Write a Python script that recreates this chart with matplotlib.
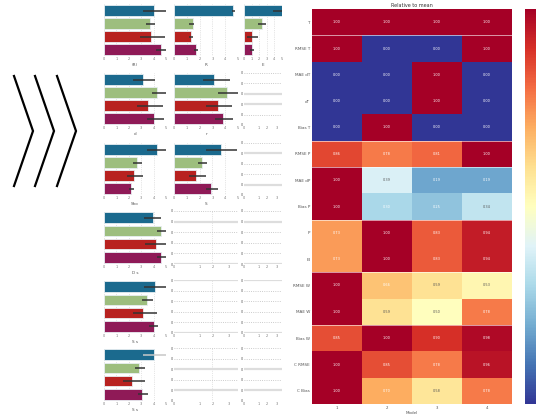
import numpy as np
import matplotlib.pyplot as plt

W, H = 536, 416
fig = plt.figure(figsize=(W / 100, H / 100), dpi=100)


def box(x0, y0, x1, y1):
    # pixel box (top-left origin) -> figure fraction
    return [x0 / W, 1 - y1 / H, (x1 - x0) / W, (y1 - y0) / H]


# ---- bar panel data (fraction of axis range) ----
bar_colors = ["#1b6a8e", "#9dbe7e", "#b82220", "#8f1a57"]
panel_pos = [(0, 0), (0, 1), (0, 2), (1, 0), (1, 1), (2, 0), (2, 1), (3, 0), (4, 0), (5, 0)]
panel_means = [
    [0.81, 0.74, 0.76, 0.92],
    [0.92, 0.29, 0.26, 0.35],
    [1.05, 0.47, 0.21, 0.21],
    [0.63, 0.85, 0.71, 0.81],
    [0.63, 0.83, 0.69, 0.77],
    [0.85, 0.53, 0.48, 0.44],
    [0.73, 0.44, 0.34, 0.58],
    [0.79, 0.92, 0.84, 0.92],
    [0.82, 0.69, 0.63, 0.81],
    [0.81, 0.56, 0.45, 0.61],
]
panel_lo = [
    [0.63, 0.68, 0.58, 0.84],
    [0.90, 0.24, 0.23, 0.31],
    [0.75, 0.37, 0.08, 0.15],
    [0.47, 0.77, 0.53, 0.69],
    [0.45, 0.69, 0.50, 0.64],
    [0.69, 0.47, 0.37, 0.40],
    [0.50, 0.38, 0.23, 0.50],
    [0.65, 0.85, 0.66, 0.85],
    [0.65, 0.61, 0.47, 0.73],
    [0.63, 0.50, 0.31, 0.55],
]
panel_hi = [
    [1.00, 0.82, 0.98, 1.00],
    [0.96, 0.32, 0.29, 0.38],
    [1.10, 0.58, 0.37, 0.26],
    [0.82, 1.00, 0.95, 0.97],
    [0.88, 1.00, 0.90, 0.92],
    [1.00, 0.61, 0.63, 0.48],
    [0.98, 0.52, 0.50, 0.69],
    [0.92, 1.00, 1.00, 1.00],
    [1.00, 0.79, 0.85, 0.87],
    [1.00, 0.66, 0.66, 0.71],
]
panel_labels = ["(R)", "R", "E", "d", "r", "Sho", "S", "D s", "S s", "S s"]
empty_pos = [(1, 2), (2, 2), (3, 1), (3, 2), (4, 1), (4, 2), (5, 1), (5, 2)]
empty_solid = [[2, 3], [1, 4], [0, 4], [0, 4], [0, 5], [0, 5], [1, 3], [1, 3]]

col_x = [(104, 166), (174, 238), (244, 282)]
row_y = [(4, 56), (73, 125), (143, 195), (211, 264), (280, 333), (348, 401)]

for k, (r, c) in enumerate(panel_pos):
    x0, x1 = col_x[c]
    y0, y1 = row_y[r]
    ax = fig.add_axes(box(x0, y0, x1, y1))
    m = np.array(panel_means[k])
    lo = np.array(panel_lo[k])
    hi = np.array(panel_hi[k])
    yy = np.arange(4)
    ax.barh(yy, m, height=0.8, color=bar_colors, edgecolor="#e8eef2", linewidth=0.6, zorder=2)
    for i in range(4):
        ecol = "#c8c8c8" if (k == 9 and i == 0) else "#333333"
        ax.plot([lo[i], hi[i]], [yy[i], yy[i]], color=ecol,
                lw=1.1, zorder=3, solid_capstyle="butt")
    ax.set_xlim(0, 1.0)
    ax.set_ylim(3.5, -0.5)
    ax.set_yticks([])
    ax.set_xticks([0, 0.2, 0.4, 0.6, 0.8, 1.0])
    ax.set_xticklabels(["0", "1", "2", "3", "4", "5"], fontsize=2.5, color="#777777")
    ax.tick_params(length=0, pad=1)
    ax.grid(axis="x", ls=":", lw=0.5, color="#cccccc", zorder=0)
    for s in ax.spines.values():
        s.set_visible(False)
    ax.set_xlabel(panel_labels[k], fontsize=3, color="#555555", labelpad=1)

for k, (r, c) in enumerate(empty_pos):
    x0, x1 = col_x[c]
    y0, y1 = row_y[r]
    ax = fig.add_axes(box(x0, y0, x1, y1))
    ax.set_xlim(0, 1)
    ax.set_ylim(0, 5)
    ax.set_yticks(range(6))
    ax.set_yticklabels(["0"] * 6, fontsize=2.5, color="#555555")
    ax.set_xticks([0, 0.4, 0.6, 0.85])
    ax.set_xticklabels(["0", "1", "2", "3"], fontsize=2.5, color="#777777")
    ax.tick_params(length=0, pad=1)
    ax.grid(axis="y", ls=":", lw=0.6, color="#bbbbbb")
    if c == 1:
        ax.axvline(0.6, ls=":", lw=0.5, color="#cccccc")
    for lvl in empty_solid[k]:
        ax.axhline(lvl, color="#dddddd", lw=1.6)
    for s in ax.spines.values():
        s.set_visible(False)

# ---- heatmap data ----
heat_rows = ["T", "RMSE T", "MAE dT", "dT", "Bias T", "RMSE P", "MAE dP", "Bias P",
             "P", "EI", "RMSE W", "MAE W", "Bias W", "C RMSE", "C Bias"]
heat_cols = ["1", "2", "3", "4"]
heat_vals = np.array([
    [1.00, 1.00, 1.00, 1.00],
    [1.00, 0.00, 0.00, 1.00],
    [0.00, 0.00, 1.00, 0.00],
    [0.00, 0.00, 1.00, 0.00],
    [0.00, 1.00, 0.00, 0.00],
    [0.86, 0.78, 0.81, 1.00],
    [1.00, 0.39, 0.19, 0.19],
    [1.00, 0.30, 0.25, 0.34],
    [0.73, 1.00, 0.83, 0.94],
    [0.73, 1.00, 0.83, 0.94],
    [1.00, 0.66, 0.59, 0.53],
    [1.00, 0.59, 0.50, 0.78],
    [0.85, 1.00, 0.90, 0.98],
    [1.00, 0.85, 0.78, 0.96],
    [1.00, 0.70, 0.58, 0.78],
])
group_breaks = [1, 5, 6, 8, 10, 12]

hax = fig.add_axes(box(312, 9, 512, 404))
mesh = hax.pcolormesh(np.arange(5), np.arange(16), heat_vals, cmap="RdYlBu_r", vmin=0, vmax=1)
hax.set_ylim(15, 0)
for i in range(heat_vals.shape[0]):
    for j in range(heat_vals.shape[1]):
        v = heat_vals[i, j]
        tc = "#555555" if 0.3 < v < 0.65 else "white"
        hax.text(j + 0.5, i + 0.5, f"{v:.2f}", ha="center", va="center", fontsize=2.5, color=tc)
for b in group_breaks:
    hax.axhline(b, color="white", lw=0.7, alpha=0.6)
hax.set_xticks(np.arange(4) + 0.5)
hax.set_xticklabels(heat_cols, fontsize=2.8, color="#555555")
hax.set_yticks(np.arange(15) + 0.5)
hax.set_yticklabels(heat_rows, fontsize=3, color="#555555")
hax.tick_params(length=0, pad=1.5)
for s in hax.spines.values():
    s.set_visible(False)
hax.set_title("Relative to mean", fontsize=3.5, color="#333333", pad=1.5)
hax.set_xlabel("Model", fontsize=3, color="#555555", labelpad=0.5)

cax = fig.add_axes(box(525, 9, 541, 404))
cb = fig.colorbar(mesh, cax=cax)
cb.outline.set_visible(False)
cb.set_ticks([])

# ---- chevrons ----
dax = fig.add_axes([0, 0, 1, 1])
dax.set_xlim(0, W)
dax.set_ylim(H, 0)
dax.axis("off")
for x0 in [14, 35, 57]:
    dax.plot([x0, x0 + 19, x0], [76, 131, 186], color="black", lw=1.6, solid_joinstyle="miter")

fig.savefig("out.png", dpi=100)
